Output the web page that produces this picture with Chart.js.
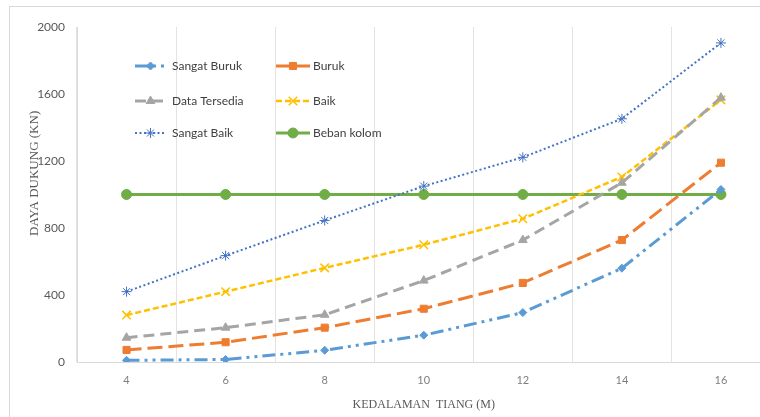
<!DOCTYPE html>
<html>
<head>
<meta charset="utf-8">
<script src="https://cdn.jsdelivr.net/npm/chart.js@4.4.1/dist/chart.umd.min.js"></script>
<style>
    html, body { margin: 0; padding: 0; background: #fff; overflow: hidden; }
    #frame { position: absolute; left: 9px; top: 6px; border: 1px solid #d9d9d9; }
    #box { position: relative; width: 768px; height: 412px; }
</style>
</head>
<body>
<div id="frame"><div id="box"><canvas id="dayaChart"></canvas></div></div>
<script>
const kedalaman = ['4', '6', '8', '10', '12', '14', '16'];
const sangatBuruk = [10, 15, 70, 160, 295, 560, 1030];
const buruk = [72, 118, 205, 318, 472, 728, 1190];
const dataTersedia = [145, 205, 282, 486, 728, 1070, 1578];
const baik = [280, 420, 562, 700, 855, 1105, 1565];
const sangatBaik = [420, 635, 845, 1050, 1222, 1452, 1905];
const bebanKolom = [1000, 1000, 1000, 1000, 1000, 1000, 1000];
const yTicks = [0, 400, 800, 1200, 1600, 2000];

const seriesNames = ['Sangat Buruk', 'Buruk', 'Data Tersedia', 'Baik', 'Sangat Baik', 'Beban kolom'];

// legend drawn inside the plot, two columns like the original
const legendBoxes = {
    id: 'legendBoxes',
    afterDatasetsDraw(chart) {
        const ctx = chart.ctx;
        const cols = [{ x1: 125, x2: 156, tx: 162 }, { x1: 266, x2: 300, tx: 303 }];
        const rows = [59, 94, 126];
        chart.data.datasets.forEach((ds, i) => {
            const c = cols[i % 2];
            const y = rows[Math.floor(i / 2)];
            ctx.save();
            ctx.strokeStyle = ds.borderColor;
            ctx.lineWidth = ds.borderWidth;
            ctx.setLineDash(ds.borderDash || []);
            ctx.beginPath();
            ctx.moveTo(c.x1, y);
            ctx.lineTo(c.x2, y);
            ctx.stroke();
            ctx.setLineDash([]);
            ctx.fillStyle = ds.pointBackgroundColor;
            ctx.strokeStyle = ds.pointBorderColor;
            ctx.lineWidth = ds.pointBorderWidth;
            Chart.helpers.drawPoint(ctx, {
                pointStyle: ds.pointStyle,
                radius: ds.pointRadius,
                rotation: 0,
                borderWidth: ds.pointBorderWidth
            }, (c.x1 + c.x2) / 2, y);
            ctx.fillStyle = '#404040';
            ctx.font = '12px Lato, "Open Sans", sans-serif';
            ctx.textBaseline = 'middle';
            ctx.fillText(ds.label, c.tx, y);
            ctx.restore();
        });
    }
};

function makeSeries(label, data, color, dash, width, style, radius, borderW) {
    return {
        label: label,
        data: data,
        borderColor: color,
        backgroundColor: color,
        borderWidth: width,
        borderDash: dash,
        pointStyle: style,
        pointRadius: radius,
        pointHoverRadius: radius,
        pointBackgroundColor: color,
        pointBorderColor: color,
        pointBorderWidth: borderW,
        tension: 0,
        fill: false
    };
}

const ctx = document.getElementById('dayaChart').getContext('2d');
new Chart(ctx, {
    type: 'line',
    data: {
        labels: kedalaman,
        datasets: [
            makeSeries(seriesNames[0], sangatBuruk, '#5b9bd5', [13, 5, 3, 5, 3, 5], 3, 'rectRot', 4, 1),
            makeSeries(seriesNames[1], buruk, '#ed7d31', [15, 6], 3, 'rect', 5, 1),
            makeSeries(seriesNames[2], dataTersedia, '#a5a5a5', [11, 6], 3, 'triangle', 5, 1),
            makeSeries(seriesNames[3], baik, '#ffc000', [6, 3], 2.5, 'crossRot', 6, 1.5),
            makeSeries(seriesNames[4], sangatBaik, '#4472c4', [2, 2.5], 2, 'star', 5, 1),
            makeSeries(seriesNames[5], bebanKolom, '#70ad47', [], 3, 'circle', 5, 1)
        ]
    },
    options: {
        responsive: true,
        maintainAspectRatio: false,
        animation: false,
        layout: {
            padding: { top: 20, right: 0, left: 0, bottom: 0 }
        },
        plugins: {
            legend: { display: false },
            tooltip: { enabled: false }
        },
        scales: {
            x: {
                offset: true,
                grid: {
                    offset: true,
                    color: '#e3e3e3',
                    drawTicks: false
                },
                border: { color: '#d9d9d9' },
                ticks: {
                    padding: 12,
                    color: '#7f7f7f',
                    font: { family: 'Lato, "Open Sans", sans-serif', size: 11 }
                },
                title: {
                    display: true,
                    text: 'KEDALAMAN  TIANG (M)',
                    color: '#595959',
                    padding: { top: 0, bottom: 7 },
                    font: { family: '"Liberation Serif", "DejaVu Serif", serif', size: 12 }
                },
                afterFit(scale) {
                    scale.height = 57;
                }
            },
            y: {
                min: 0,
                max: 2000,
                afterBuildTicks(scale) {
                    scale.ticks = yTicks.map(v => ({ value: v }));
                },
                grid: { display: false, drawTicks: false },
                border: { color: '#d9d9d9' },
                ticks: {
                    padding: 12,
                    color: '#595959',
                    font: { family: 'Lato, "Open Sans", sans-serif', size: 12 },
                    callback: function(value) {
                        return String(value);
                    }
                },
                title: {
                    display: true,
                    // leading spaces push the title up a little, as in the original
                    text: '             DAYA DUKUNG (KN)',
                    color: '#595959',
                    padding: { top: 17, bottom: 0 },
                    font: { family: '"Liberation Serif", "DejaVu Serif", serif', size: 13 }
                },
                afterFit(scale) {
                    scale.width = 67;
                }
            }
        }
    },
    plugins: [legendBoxes]
});
</script>
</body>
</html>
